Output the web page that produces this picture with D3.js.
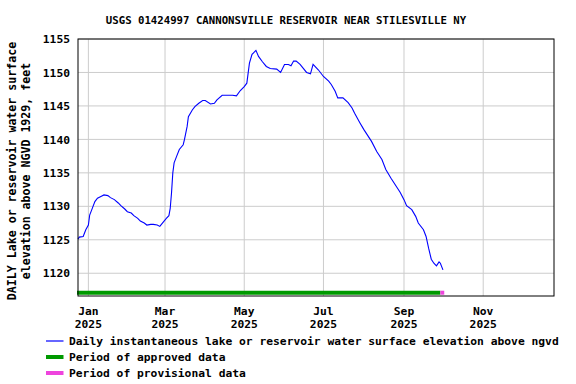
<!DOCTYPE html>
<html lang="en">
<head>
  <meta charset="UTF-8">
  <title>USGS 01424997 Cannonsville Reservoir</title>
  <style>
    body { margin: 0; padding: 0; background: #fff; }
    svg text { font-family: "DejaVu Sans Mono", monospace; font-weight: bold; fill: #000; }
    .grid line { stroke: #cccccc; stroke-width: 1px; }
  </style>
</head>
<body>
<div id="chart"></div>

<script src="https://cdn.jsdelivr.net/npm/d3@7"></script>
<script>
  // Data
  const dates = [
    "2024-12-24","2024-12-25","2024-12-28","2024-12-30","2025-01-01","2025-01-02","2025-01-04",
    "2025-01-06","2025-01-08","2025-01-11","2025-01-13","2025-01-16","2025-01-18","2025-01-21",
    "2025-01-24","2025-01-26","2025-01-29","2025-01-31","2025-02-03","2025-02-05","2025-02-08",
    "2025-02-10","2025-02-13","2025-02-15","2025-02-18","2025-02-20","2025-02-23","2025-02-25",
    "2025-02-27","2025-03-02","2025-03-04","2025-03-05","2025-03-06","2025-03-07","2025-03-08",
    "2025-03-10","2025-03-12","2025-03-15","2025-03-16","2025-03-18","2025-03-19","2025-03-22",
    "2025-03-24","2025-03-27","2025-03-30","2025-04-01","2025-04-05","2025-04-08","2025-04-10",
    "2025-04-14","2025-04-18","2025-04-22","2025-04-25","2025-04-28","2025-05-01","2025-05-03",
    "2025-05-05","2025-05-07","2025-05-08","2025-05-10","2025-05-12","2025-05-15","2025-05-18",
    "2025-05-21","2025-05-26","2025-05-29","2025-06-01","2025-06-04","2025-06-06","2025-06-08",
    "2025-06-10","2025-06-13","2025-06-18","2025-06-21","2025-06-23","2025-06-27","2025-07-01",
    "2025-07-05","2025-07-07","2025-07-10","2025-07-12","2025-07-16","2025-07-20","2025-07-23",
    "2025-07-25","2025-07-29","2025-08-01","2025-08-04","2025-08-07","2025-08-11","2025-08-15",
    "2025-08-18","2025-08-22","2025-08-26","2025-08-29","2025-09-01","2025-09-03","2025-09-07",
    "2025-09-10","2025-09-12","2025-09-16","2025-09-18","2025-09-20","2025-09-22","2025-09-24",
    "2025-09-26","2025-09-28","2025-09-29","2025-10-01"
  ];
  const elevation = [
    1125.1,1125.4,1125.5,1126.5,1127.2,1128.7,1129.7,
    1130.7,1131.2,1131.5,1131.7,1131.6,1131.3,1131.0,
    1130.5,1130.1,1129.6,1129.2,1129.0,1128.6,1128.2,
    1127.8,1127.5,1127.2,1127.3,1127.3,1127.2,1127.0,
    1127.5,1128.2,1128.6,1129.7,1132.0,1135.0,1136.5,
    1137.5,1138.5,1139.2,1140.0,1141.9,1143.4,1144.4,
    1144.9,1145.4,1145.8,1145.8,1145.3,1145.4,1145.9,
    1146.6,1146.6,1146.6,1146.5,1147.3,1147.9,1148.4,
    1151.4,1152.7,1152.9,1153.3,1152.4,1151.6,1150.9,
    1150.6,1150.5,1150.0,1151.2,1151.2,1151.0,1151.7,
    1151.7,1151.2,1150.0,1149.8,1151.2,1150.4,1149.4,
    1148.7,1148.2,1147.2,1146.2,1146.2,1145.5,1144.7,
    1143.9,1142.5,1141.5,1140.6,1139.7,1138.2,1137.0,
    1135.5,1134.2,1133.0,1132.1,1131.0,1130.1,1129.5,
    1128.5,1127.5,1126.5,1125.5,1123.7,1122.1,1121.5,
    1121.1,1121.7,1121.5,1120.5
  ];
  const approvedPeriod = ["2024-12-24", "2025-09-29"];
  const provisionalPeriod = ["2025-09-29", "2025-10-02"];
  const xTickDates = ["2025-01-01","2025-03-01","2025-05-01","2025-07-01","2025-09-01","2025-11-01"];
  const yTicks = [1120, 1125, 1130, 1135, 1140, 1145, 1150, 1155];
  const legendLabels = [
    "Daily instantaneous lake or reservoir water surface elevation above ngvd",
    "Period of approved data",
    "Period of provisional data"
  ];

  const width = 576, height = 384;
  const margin = { top: 39, right: 22, bottom: 88, left: 78 };
  const parse = d3.utcParse("%Y-%m-%d");

  const svg = d3.select("#chart").append("svg")
      .attr("width", width)
      .attr("height", height);

  const x = d3.scaleUtc()
      .domain([parse("2024-12-24"), new Date(Date.UTC(2025, 11, 25, 12))])
      .range([margin.left, width - margin.right]);
  const y = d3.scaleLinear()
      .domain([1116.6, 1155])
      .range([height - margin.bottom, margin.top]);

  const series = dates.map((d, i) => ({ date: parse(d), value: elevation[i] }));

  // grid
  const grid = svg.append("g").attr("class", "grid");
  grid.selectAll(".vg")
      .data(xTickDates.map(parse))
      .enter().append("line")
      .attr("x1", d => x(d)).attr("x2", d => x(d))
      .attr("y1", margin.top).attr("y2", height - margin.bottom);
  grid.selectAll(".hg")
      .data(yTicks)
      .enter().append("line")
      .attr("x1", margin.left).attr("x2", width - margin.right)
      .attr("y1", d => y(d)).attr("y2", d => y(d));

  // y axis labels
  const yAxis = d3.axisLeft(y).tickValues(yTicks).tickSize(0).tickPadding(8).tickFormat(d3.format("d"));
  svg.append("g")
      .attr("transform", `translate(${margin.left},0)`)
      .call(yAxis)
      .call(g => g.select(".domain").remove())
      .selectAll("text")
      .style("font-size", "11.3px");

  // x axis labels (month / year)
  const xl = svg.append("g");
  xl.selectAll(".m")
      .data(xTickDates.map(parse))
      .enter().append("text")
      .attr("x", d => x(d))
      .attr("y", 315)
      .attr("text-anchor", "middle")
      .style("font-size", "11.3px")
      .text(d => d3.utcFormat("%b")(d));
  xl.selectAll(".yr")
      .data(xTickDates.map(parse))
      .enter().append("text")
      .attr("x", d => x(d))
      .attr("y", 327.5)
      .attr("text-anchor", "middle")
      .style("font-size", "11.3px")
      .text(d => d3.utcFormat("%Y")(d));

  // data line
  const line = d3.line().x(d => x(d.date)).y(d => y(d.value));
  svg.append("path")
      .datum(series)
      .attr("fill", "none")
      .attr("stroke", "#0000ff")
      .attr("stroke-width", 1.1)
      .attr("d", line);

  // approval bars
  const barY = 292.7;
  svg.append("line")
      .attr("x1", x(parse(approvedPeriod[0])) - 1).attr("x2", x(parse(approvedPeriod[1])))
      .attr("y1", barY).attr("y2", barY)
      .attr("stroke", "#009900").attr("stroke-width", 4);
  svg.append("line")
      .attr("x1", x(parse(provisionalPeriod[0]))).attr("x2", x(parse(provisionalPeriod[1])))
      .attr("y1", barY).attr("y2", barY)
      .attr("stroke", "#ee44dd").attr("stroke-width", 4);

  // plot border
  svg.append("rect")
      .attr("x", margin.left).attr("y", margin.top)
      .attr("width", width - margin.left - margin.right)
      .attr("height", height - margin.top - margin.bottom)
      .attr("fill", "none").attr("stroke", "#000").attr("stroke-width", 1);

  // title
  svg.append("text")
      .attr("x", 286)
      .attr("y", 24)
      .attr("text-anchor", "middle")
      .style("font-size", "10.7px")
      .text("USGS 01424997 CANNONSVILLE RESERVOIR NEAR STILESVILLE NY");

  // y axis title
  const yt = svg.append("text")
      .attr("transform", "translate(16,171) rotate(-90)")
      .attr("text-anchor", "middle")
      .style("font-size", "11.6px");
  yt.append("tspan").attr("x", 0).attr("dy", 0).text("DAILY Lake or reservoir water surface");
  yt.append("tspan").attr("x", 0).attr("dy", 13.5).text("elevation above NGVD 1929, feet");

  // legend
  const legend = svg.append("g");
  const legendY = [341, 357, 373];
  const legendStyles = [
    { color: "#0000ff", w: 1.2 },
    { color: "#009900", w: 4 },
    { color: "#ee44dd", w: 4 }
  ];
  legendLabels.forEach((label, i) => {
    legend.append("line")
        .attr("x1", 46).attr("x2", 63.5)
        .attr("y1", legendY[i]).attr("y2", legendY[i])
        .attr("stroke", legendStyles[i].color)
        .attr("stroke-width", legendStyles[i].w);
    legend.append("text")
        .attr("x", 69).attr("y", legendY[i])
        .attr("dy", "0.35em")
        .style("font-size", "11.3px")
        .text(label);
  });
</script>
</body>
</html>
